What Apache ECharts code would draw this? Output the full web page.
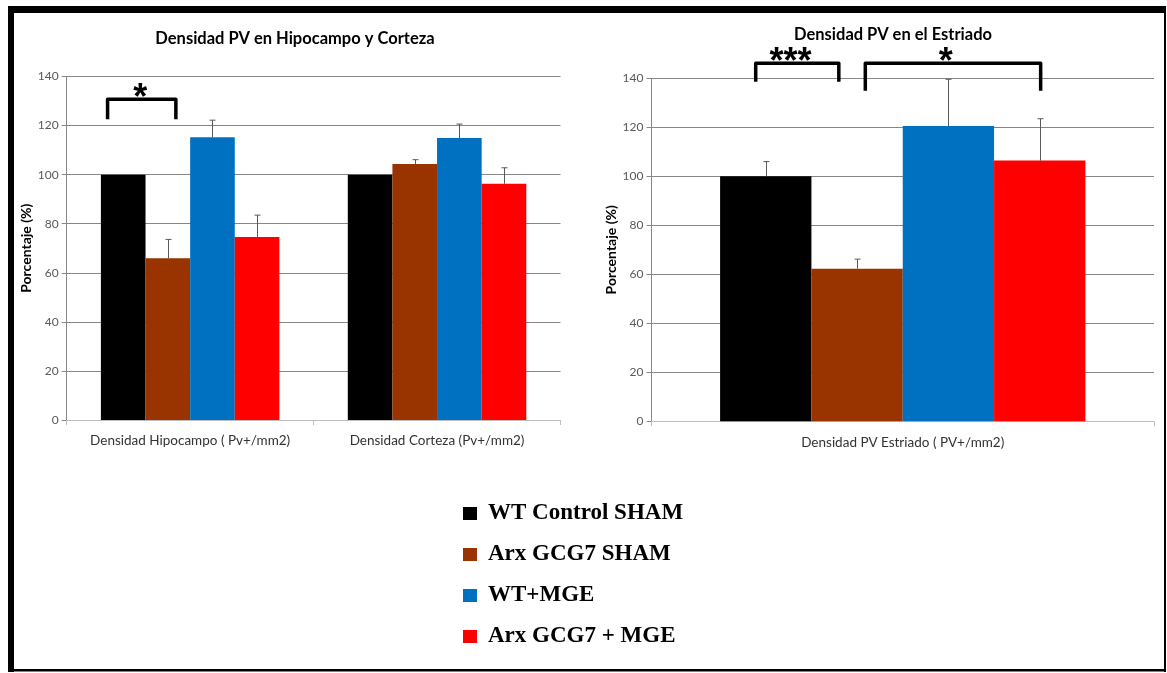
<!DOCTYPE html>
<html><head><meta charset="utf-8">
<script src="https://cdn.jsdelivr.net/npm/echarts@6/dist/echarts.min.js"></script>
<style>html,body{margin:0;padding:0;background:#fff}#c{width:1167px;height:673px}</style>
</head><body><div id="c"></div>
<script>
// ---- data ----
const seriesNames = ['WT Control SHAM', 'Arx GCG7 SHAM', 'WT+MGE', 'Arx GCG7 + MGE'];
const leftTitle = 'Densidad PV en Hipocampo y Corteza';
const rightTitle = 'Densidad PV en el Estriado';
const yAxisName = 'Porcentaje (%)';
const leftCategories = ['Densidad Hipocampo ( Pv+/mm2)', 'Densidad Corteza (Pv+/mm2)'];
const rightCategories = ['Densidad PV Estriado ( PV+/mm2)'];
const yTicks = [0, 20, 40, 60, 80, 100, 120, 140];
// bar heights, one array per series (per category)
const leftValues = [[100, 100], [65.9, 104.3], [115.2, 114.9], [74.6, 96.3]];
// top of error bars (null = none)
const leftErrTops = [[null, null], [73.6, 106.1], [122.2, 120.6], [83.5, 102.8]];
const rightValues = [[100], [62.3], [120.5], [106.4]];
const rightErrTops = [[106.0], [66.2], [139.6], [123.5]];
// significance brackets: [category, from (bar units from group centre), to, star pos, top value, left end value, right end value, label]
const leftBrackets = [[0, -1.85, -0.32, -1.12, 130.7, 122.6, 122.6, '*']];
const rightBrackets = [
  [0, -1.61, -0.70, -1.23, 146.1, 138.6, 138.6, '***'],
  [0, -0.41, 1.51, 0.47, 146.1, 134.9, 134.9, '*']
];

// ---- styles ----
const colors = ['#000000', '#993300', '#0070C0', '#FF0000'];
const GAPS = [0.277, 0.273];
const FONT = 'Lato';

const chart = echarts.init(document.getElementById('c'), null, {renderer: 'canvas'});

function errRender(gap) {
  return function (params, api) {
    const cat = api.value(0), val = api.value(1), top = api.value(2), slot = api.value(3);
    const band = api.size([1, 0])[0];
    const bw = band * (1 - gap) / 4;
    const p0 = api.coord([cat, val]);
    const p1 = api.coord([cat, top]);
    const cx = Math.round(p0[0] + (slot - 1.5) * bw) + 0.5;
    const st = {stroke: '#595959', lineWidth: 1};
    return {type: 'group', children: [
      {type: 'line', shape: {x1: cx, y1: p0[1], x2: cx, y2: p1[1]}, style: st},
      {type: 'line', shape: {x1: cx - 3, y1: p1[1], x2: cx + 3, y2: p1[1]}, style: st}
    ]};
  };
}
function bracketRender(gap, list) {
  return function (params, api) {
    const d = list[params.dataIndex];
    const cat = api.value(0);
    const band = api.size([1, 0])[0];
    const bw = band * (1 - gap) / 4;
    const cx = api.coord([cat, 0])[0];
    const x1 = cx + api.value(1) * bw, x2 = cx + api.value(2) * bw, xs = cx + api.value(3) * bw;
    const yT = api.coord([cat, api.value(4)])[1];
    const yL = api.coord([cat, api.value(5)])[1];
    const yR = api.coord([cat, api.value(6)])[1];
    return {type: 'group', children: [
      {type: 'polyline', shape: {points: [[x1, yL], [x1, yT], [x2, yT], [x2, yR]]},
        style: {stroke: '#000', lineWidth: 3.5, fill: null, lineJoin: 'round', lineCap: 'butt'}},
      {type: 'text', style: {text: d[7], x: xs, y: yT, align: 'center', verticalAlign: 'middle',
        font: 'bold 36px "Liberation Sans"', fill: '#000'}}
    ]};
  };
}

function errData(vals, tops) {
  const out = [];
  vals.forEach((arr, s) => arr.forEach((v, c) => {
    if (tops[s][c] != null) out.push([c, v, tops[s][c], s]);
  }));
  return out;
}

function xAxisCfg(idx, cats) {
  return {
    gridIndex: idx, type: 'category', data: cats,
    axisLine: {lineStyle: {color: '#bfbfbf'}},
    axisTick: {show: true, length: 5, lineStyle: {color: '#bfbfbf'}},
    axisLabel: {fontFamily: FONT, fontSize: 13.5, color: '#333', margin: 14, interval: 0},
    splitLine: {show: false}
  };
}
function yAxisCfg(idx) {
  return {
    gridIndex: idx, type: 'value',
    min: yTicks[0], max: yTicks[yTicks.length - 1], interval: yTicks[1] - yTicks[0],
    axisLine: {show: true, lineStyle: {color: '#868686'}},
    axisTick: {show: true, length: 5, lineStyle: {color: '#868686'}},
    splitLine: {show: true, lineStyle: {color: '#868686'}},
    axisLabel: {fontFamily: FONT, fontSize: 12, color: '#595959', margin: 8},
    name: yAxisName, nameLocation: 'middle', nameGap: 33,
    nameTextStyle: {fontFamily: FONT, fontWeight: 'bold', fontSize: 14, color: '#000'}
  };
}

const series = [];
seriesNames.forEach((n, i) => {
  series.push({type: 'bar', name: n, xAxisIndex: 0, yAxisIndex: 0, data: leftValues[i],
    barGap: '0%', barCategoryGap: (GAPS[0] * 100) + '%', itemStyle: {color: colors[i]}, silent: true});
});
seriesNames.forEach((n, i) => {
  series.push({type: 'bar', name: n, xAxisIndex: 1, yAxisIndex: 1, data: rightValues[i],
    barGap: '0%', barCategoryGap: (GAPS[1] * 100) + '%', itemStyle: {color: colors[i]}, silent: true});
});
series.push({type: 'custom', xAxisIndex: 0, yAxisIndex: 0, z: 5, renderItem: errRender(GAPS[0]),
  data: errData(leftValues, leftErrTops), silent: true});
series.push({type: 'custom', xAxisIndex: 1, yAxisIndex: 1, z: 5, renderItem: errRender(GAPS[1]),
  data: errData(rightValues, rightErrTops), silent: true});
series.push({type: 'custom', xAxisIndex: 0, yAxisIndex: 0, z: 6, clip: false,
  renderItem: bracketRender(GAPS[0], leftBrackets), data: leftBrackets.map(b => b.slice(0, 7)), silent: true});
series.push({type: 'custom', xAxisIndex: 1, yAxisIndex: 1, z: 6, clip: false,
  renderItem: bracketRender(GAPS[1], rightBrackets), data: rightBrackets.map(b => b.slice(0, 7)), silent: true});

chart.setOption({
  animation: false,
  backgroundColor: '#ffffff',
  title: [
    {text: leftTitle, left: 295, top: 30, textAlign: 'center', padding: 0,
      textStyle: {fontFamily: FONT, fontWeight: 'bold', fontSize: 16.5, color: '#000'}},
    {text: rightTitle, left: 893, top: 26.5, textAlign: 'center', padding: 0,
      textStyle: {fontFamily: FONT, fontWeight: 'bold', fontSize: 16.5, color: '#000'}}
  ],
  grid: [
    {left: 66.7, right: 1167 - 560.5, top: 76.5, bottom: 673 - 420, containLabel: false},
    {left: 651.5, right: 1167 - 1154, top: 78.3, bottom: 673 - 421.3, containLabel: false}
  ],
  xAxis: [xAxisCfg(0, leftCategories), xAxisCfg(1, rightCategories)],
  yAxis: [yAxisCfg(0), yAxisCfg(1)],
  legend: {
    data: seriesNames, orient: 'vertical', left: 458, top: 497, itemWidth: 14, itemHeight: 13,
    itemGap: 18, icon: 'rect', selectedMode: false,
    textStyle: {fontFamily: '"Liberation Serif"', fontWeight: 'bold', fontSize: 23, color: '#000',
      padding: [0, 0, 0, 6]}
  },
  graphic: [
    {type: 'rect', shape: {x: 8, y: 6, width: 1158, height: 7}, style: {fill: '#000'}, silent: true},
    {type: 'rect', shape: {x: 8, y: 6, width: 6, height: 666}, style: {fill: '#000'}, silent: true},
    {type: 'rect', shape: {x: 1164, y: 6, width: 2, height: 666}, style: {fill: '#000'}, silent: true},
    {type: 'rect', shape: {x: 8, y: 669, width: 1158, height: 2.5}, style: {fill: '#000'}, silent: true}
  ],
  series: series
});
</script>
</body></html>
